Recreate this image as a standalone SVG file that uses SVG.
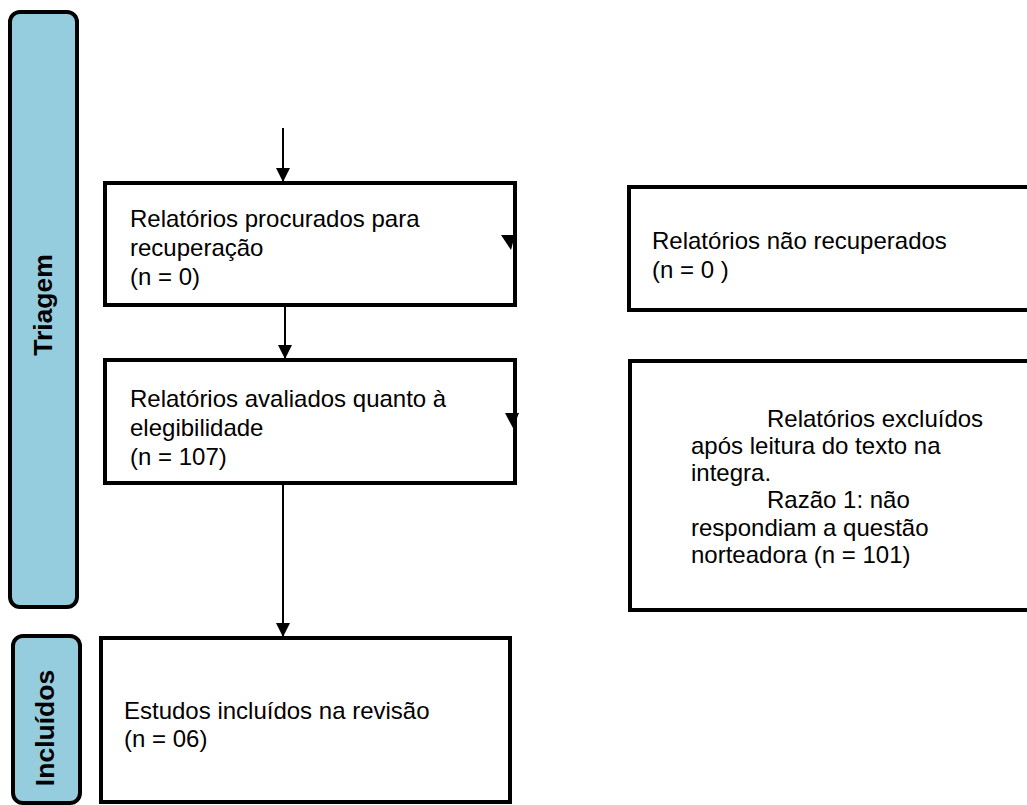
<svg xmlns="http://www.w3.org/2000/svg" width="1027" height="805" viewBox="0 0 1027 805">
<style>
.phase{fill:#96CDDE;stroke:#000;stroke-width:4}
.box{fill:#fff;stroke:#000;stroke-width:4}
.t{font-family:"Liberation Sans",Arial,sans-serif;font-size:24px;fill:#000}
.lbl{font-family:"Liberation Sans",Arial,sans-serif;font-size:26.5px;font-weight:bold;fill:#000}
.ln{stroke:#000;stroke-width:2;fill:none}
.hd{fill:#000}
</style>
<defs>
<marker id="ah" markerWidth="14" markerHeight="14" refX="14" refY="7" orient="auto" markerUnits="userSpaceOnUse" viewBox="0 0 14 14">
<path d="M0,0 L14,7 L0,14 Z" fill="#000"/>
</marker>
</defs>
<rect x="0" y="0" width="1027" height="805" fill="#fff"/>
<g id="triagem">
<rect class="phase" x="10" y="12" width="67" height="595" rx="10"/>
<text class="lbl" transform="translate(52,305) rotate(-90)" text-anchor="middle">Triagem</text>
</g>
<g id="incluidos">
<rect class="phase" x="13" y="636" width="67" height="167" rx="10"/>
<text class="lbl" transform="translate(54,728) rotate(-90)" text-anchor="middle">Incluídos</text>
</g>
<g id="procurados">
<rect class="box" x="105" y="183" width="410" height="122"/>
<text class="t" x="130" y="227">Relatórios procurados para</text>
<text class="t" x="130" y="256">recuperação</text>
<text class="t" x="130" y="285">(n = 0)</text>
</g>
<g id="nao-recuperados">
<rect class="box" x="629" y="187" width="410" height="123"/>
<text class="t" x="652" y="249">Relatórios não recuperados</text>
<text class="t" x="652" y="278">(n = 0 )</text>
</g>
<g id="avaliados">
<rect class="box" x="105" y="360" width="410" height="123"/>
<text class="t" x="130" y="407">Relatórios avaliados quanto à</text>
<text class="t" x="130" y="436">elegibilidade</text>
<text class="t" x="130" y="465">(n = 107)</text>
</g>
<g id="excluidos">
<rect class="box" x="630" y="361" width="410" height="249"/>
<text class="t" x="767" y="427">Relatórios excluídos</text>
<text class="t" x="691" y="454">após leitura do texto na</text>
<text class="t" x="691" y="481">integra.</text>
<text class="t" x="767" y="508">Razão 1: não</text>
<text class="t" x="691" y="536">respondiam a questão</text>
<text class="t" x="691" y="563">norteadora (n = 101)</text>
</g>
<g id="incluidos-revisao">
<rect class="box" x="101" y="638" width="409" height="164"/>
<text class="t" x="124" y="719">Estudos incluídos na revisão</text>
<text class="t" x="124" y="747">(n = 06)</text>
</g>
<g id="connectors">
<line class="ln" x1="283" y1="128" x2="283" y2="182" marker-end="url(#ah)"/>
<line class="ln" x1="285" y1="307" x2="285" y2="359" marker-end="url(#ah)"/>
<line class="ln" x1="283" y1="485" x2="283" y2="637" marker-end="url(#ah)"/>
<polygon class="hd" points="501,235 515,235 511,250"/>
<polygon class="hd" points="505,413 519,413 513,428"/>
</g>
</svg>
